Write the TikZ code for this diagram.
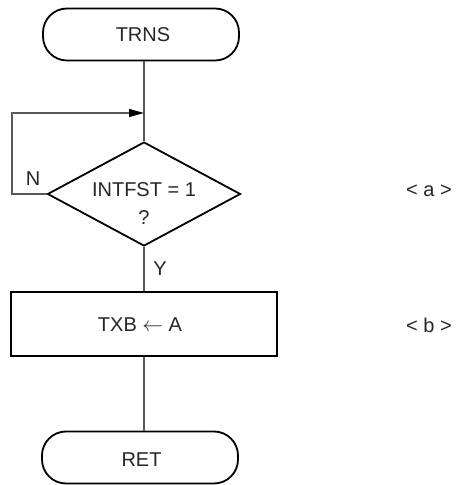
\documentclass[tikz,border=0pt]{standalone}
\usepackage{fontspec}
\setmainfont{Liberation Sans}
\usetikzlibrary{shapes.geometric,arrows.meta,calc}
\begin{document}
\begin{tikzpicture}[x=1pt,y=1pt,
  font=\fontsize{20}{24}\selectfont,
  term/.style={draw=black,line width=1.8pt,rounded corners=24pt,minimum width=196pt,minimum height=52pt,inner sep=0pt},
  proc/.style={draw=black,line width=1.8pt,minimum width=266pt,minimum height=64pt,inner sep=0pt},
  dec/.style={draw=black,line width=1.8pt,diamond,minimum width=193pt,minimum height=104pt,inner sep=0pt},
  conn/.style={draw=black!65,line width=1.1pt},
  txt/.style={anchor=base,inner sep=0pt,text=black!85}]
\useasboundingbox (0,0) rectangle (458,485);
\node[term] (trns) at (141,450.5) {};
\node[txt] (ttrns) at (143,443) {TRNS};
\node[dec] (chk) at (144,291) {};
\node[txt] (tchk1) at (144,288) {INTFST = 1};
\node[txt] (tchk2) at (144,260) {?};
\node[proc] (txb) at (144,161) {};
\node[txt] (ttxb) at (140,153) {TXB $\leftarrow$ A};
\node[term] (ret) at (140,27.5) {};
\node[txt] (tret) at (141.5,19) {RET};
\node[txt] (lN) at (33,299) {N};
\node[txt] (lY) at (160,209) {Y};
\node[txt] (la) at (429,288) {< a >};
\node[txt] (lb) at (429,152) {< b >};
\coordinate (c1) at (12,291);
\coordinate (c2) at (12,372);
\coordinate (c3) at (144,372);
\draw[conn] (chk.north) -- (chk.north |- trns.south);
\draw[conn,-{Triangle[length=15pt,width=8pt,color=black]}] (chk.west) -- (c1) -- (c2) -- (c3);
\draw[conn] (chk.south) -- (txb.north);
\draw[conn] (txb.south) -- (txb.south |- ret.north);
\end{tikzpicture}
\end{document}
